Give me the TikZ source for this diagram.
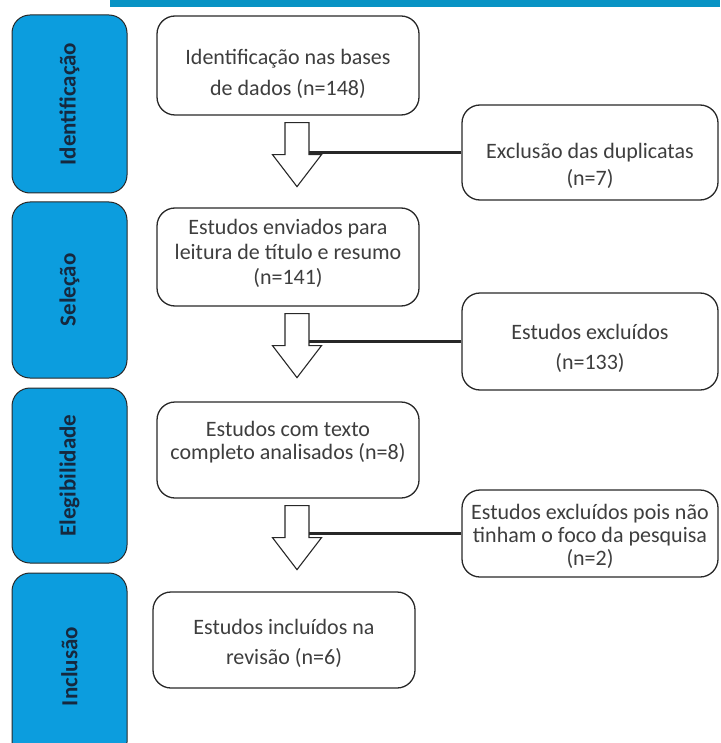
\documentclass[tikz,border=0pt]{standalone}
\usepackage{fontspec}
\setmainfont{Carlito}
\usepackage{tikz}
\usetikzlibrary{calc}

\definecolor{barblue}{RGB}{8,147,196}
\definecolor{phaseblue}{RGB}{12,157,222}
\definecolor{boxline}{RGB}{40,40,40}
\definecolor{txtgray}{RGB}{62,62,62}
\definecolor{phasetxt}{RGB}{22,40,62}

\tikzset{
  phase/.style={draw=boxline, fill=phaseblue, rounded corners=18pt, line width=1pt,
    rotate=90, text=phasetxt, font=\fontsize{23}{26}\selectfont\bfseries},
  stepbox/.style={draw=boxline, fill=white, rounded corners=18pt, line width=1.3pt},
  steptext/.style={align=center, inner sep=0pt, text=txtgray,
    font=\fontsize{22}{#1}\selectfont},
  steptext/.default=26,
  sideline/.style={draw=boxline, line width=2.2pt},
  blockdown/.pic={
    \draw[boxline, line width=1.1pt, fill=white] (-12,0) -- (-12,32) -- (-24.5,32) -- (0,64)
      -- (24.5,32) -- (12,32) -- (12,0) -- cycle;
    \coordinate (-joint) at (12,32);
  }
}

\begin{document}
\begin{tikzpicture}[x=1pt, y=-1pt]
  \useasboundingbox (0,0) rectangle (720,743);
  \clip (0,0) rectangle (720,743);
  \fill[barblue] (110,0) rectangle (720,7);

  % fases
  \node[phase, minimum width=178pt, minimum height=115pt] (fid) at (69.5,104) {Identificação};
  \node[phase, minimum width=176pt, minimum height=115pt] (fsel) at (69.5,290) {Seleção};
  \node[phase, minimum width=175pt, minimum height=115pt] (fele) at (69.5,475.5) {Elegibilidade};
  \node[phase, minimum width=187pt, minimum height=115pt] (finc) at (69.5,666.5) {Inclusão};

  % etapas
  \node[stepbox, minimum width=262pt, minimum height=99pt] (ident) at (288,65.5) {};
  \node[steptext=31] (ident-t) at ($(ident.center)+(0,8)$) {Identificação nas bases\\de dados (n=148)};
  \node[stepbox, minimum width=262pt, minimum height=98pt] (envio) at (288,257) {};
  \node[steptext=25] (envio-t) at ($(envio.center)+(0,-4)$) {Estudos enviados para\\leitura de título e resumo\\(n=141)};
  \node[stepbox, minimum width=262pt, minimum height=96pt] (texto) at (288,450) {};
  \node[steptext=23] (texto-t) at ($(texto.center)+(0,-8)$) {Estudos com texto\\completo analisados (n=8)};
  \node[stepbox, minimum width=262pt, minimum height=96pt] (incl) at (284,640) {};
  \node[steptext=30] (incl-t) at ($(incl.center)+(0,3)$) {Estudos incluídos na\\revisão (n=6)};

  % exclusoes
  \node[stepbox, minimum width=256pt, minimum height=95pt] (exdup) at (590,152.5) {};
  \node[steptext=27] (exdup-t) at ($(exdup.center)+(0,13)$) {Exclusão das duplicatas\\(n=7)};
  \node[stepbox, minimum width=256pt, minimum height=97pt] (exsel) at (590,341.5) {};
  \node[steptext=30] (exsel-t) at ($(exsel.center)+(0,7)$) {Estudos excluídos\\(n=133)};
  \node[stepbox, minimum width=256pt, minimum height=87pt] (exfoco) at (590,533.5) {};
  \node[steptext=23] (exfoco-t) at ($(exfoco.center)+(0,3)$) {Estudos excluídos pois não\\tinham o foco da pesquisa\\(n=2)};

  % setas
  \pic (dn1) at ($(ident.south)+(9,7)$) {blockdown};
  \pic (dn2) at ($(envio.south)+(9,7)$) {blockdown};
  \pic (dn3) at ($(texto.south)+(9,7)$) {blockdown};

  \draw[sideline] (exdup.west) -- (exdup.west -| dn1-joint);
  \draw[sideline] (exsel.west) -- (exsel.west -| dn2-joint);
  \draw[sideline] (exfoco.west) -- (exfoco.west -| dn3-joint);
\end{tikzpicture}
\end{document}
